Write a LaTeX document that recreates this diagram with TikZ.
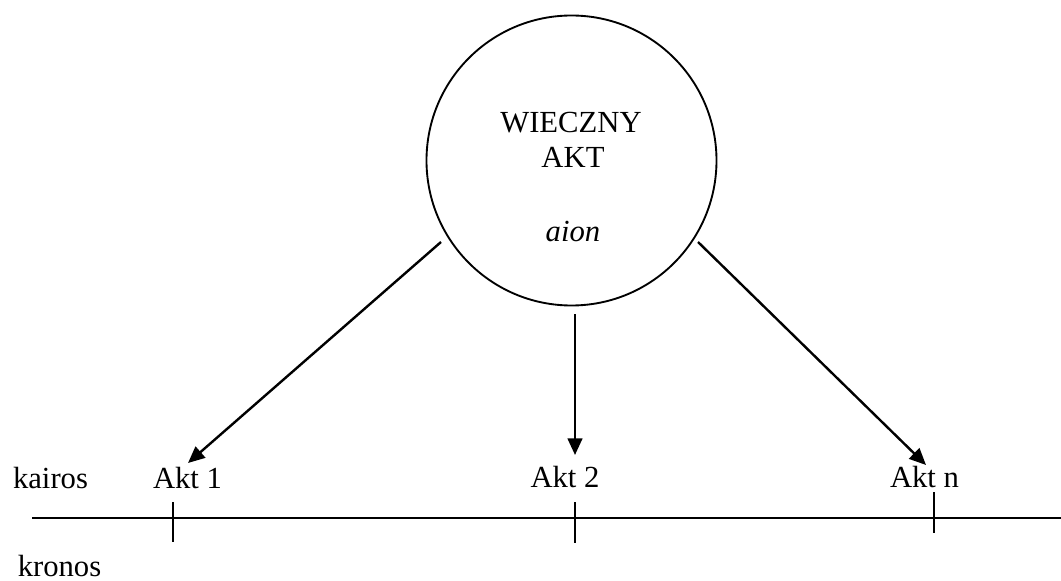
\documentclass[tikz,border=0pt]{standalone}
\usepackage{fontspec}
\setmainfont{Liberation Serif}
\usetikzlibrary{arrows.meta}
\begin{document}
\begin{tikzpicture}[x=0.75pt,y=-0.75pt,
  txt/.style={anchor=base,inner sep=0pt,font=\fontsize{23}{27}\selectfont},
  akt/.style={anchor=base,inner sep=3pt,font=\fontsize{23}{27}\selectfont},
  arr/.style={line width=1.8pt,-{Triangle[length=12.5pt,width=11pt]}},
  axis/.style={line width=1.5pt},
  tick/.style={line width=1.2pt}]
\useasboundingbox (0,0) rectangle (1061,581);
% circle
\node[draw,circle,line width=1.4pt,minimum size=217.5pt,inner sep=0pt] (c) at (571.5,160.5) {};
\node[txt] (w) at (571,133) {WIECZNY};
\node[txt] (ak) at (573,168) {AKT};
\node[txt] (ai) at (573,242) {\itshape aion};
% labels
\node[txt] (kairos) at (50.5,488) {kairos};
\node[txt] (kronos) at (59.5,576) {kronos};
\node[akt] (a1) at (187.5,488) {Akt 1};
\node[akt] (a2) at (565,487) {Akt 2};
\node[akt] (an) at (924.5,487) {Akt n};
% arrow start points
\coordinate (s1) at (441,242);
\coordinate (s2) at (575,314);
\coordinate (s3) at (698,242);
\coordinate (t1) at (188,463);
\coordinate (t2) at (575,455);
\coordinate (t3) at (926,465);
\draw[arr] (s1) -- (t1);
\draw[arr] (s2) -- (t2);
\draw[arr] (s3) -- (t3);
% timeline
\coordinate (l0) at (32,518);
\coordinate (l1) at (1061,518);
\draw[axis] (l0) -- (l1);
\draw[tick] (173,502) -- (173,542);
\draw[tick] (575,502) -- (575,543);
\draw[tick] (934,492) -- (934,533);
\end{tikzpicture}
\end{document}
